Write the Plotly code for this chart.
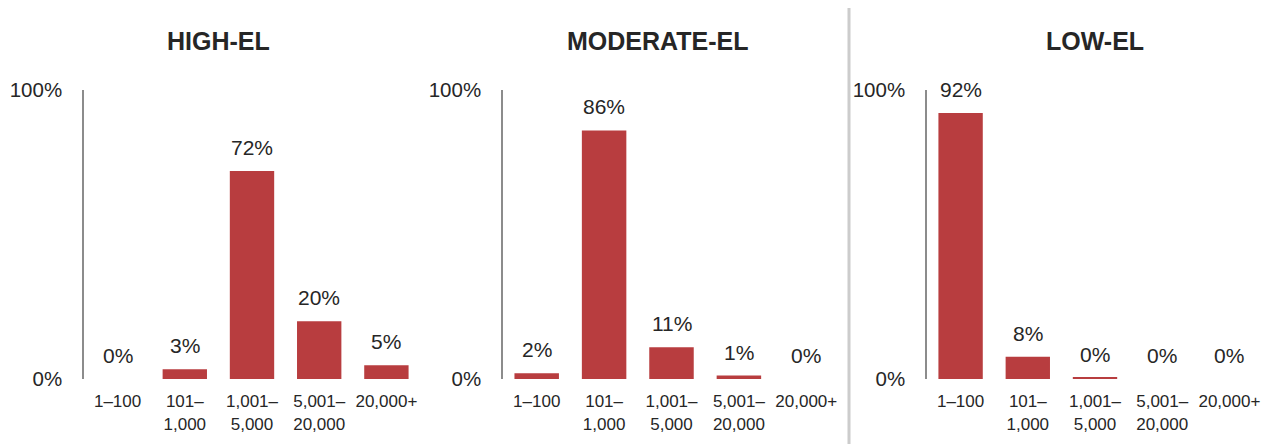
import plotly.graph_objects as go

categories = ["1–100", "101–<br>1,000", "1,001–<br>5,000", "5,001–<br>20,000", "20,000+"]
panel_titles = ["HIGH-EL", "MODERATE-EL", "LOW-EL"]
high_el = [0, 3.4, 72, 20, 4.8]
moderate_el = [2, 86, 11, 1.2, 0]
low_el = [92, 7.7, 0.4, 0, 0]
series = [high_el, moderate_el, low_el]

W, H = 1273, 444
OFF = 8  # page body margin in the browser
BAR = "#B83D3F"
TXT = "#262626"
FONT = "Liberation Sans, Arial, sans-serif"

# panel pixel extents in the reference image (left, right)
x_px = [(84, 420), (503, 840), (927, 1263)]
title_px = [218, 657, 1095]
title_y = 41
y_bottom_px, y_top_px = 379, 90


def px_x(p):
    return (p - OFF) / W


def px_y(p):
    return (H - (p - OFF)) / H


fig = go.Figure()
for i, vals in enumerate(series):
    n = "" if i == 0 else str(i + 1)
    fig.add_trace(go.Bar(
        x=categories, y=vals, marker=dict(color=BAR, line=dict(width=0)),
        xaxis="x" + n, yaxis="y" + n, showlegend=False, hoverinfo="skip",
    ))
    for c, v in zip(categories, vals):
        fig.add_annotation(
            x=c, y=v, xref="x" + n, yref="y" + n, text=f"{v:.0f}%",
            showarrow=False, yanchor="bottom", yshift=10,
            font=dict(size=21, color=TXT, family=FONT),
        )
    l, r = x_px[i]
    fig.update_layout(**{
        "xaxis" + n: dict(
            domain=[px_x(l), px_x(r)], anchor="y" + n, type="category",
            showline=False, showgrid=False, zeroline=False, automargin=False,
            ticks="outside", ticklen=7, tickcolor="rgba(0,0,0,0)",
            tickfont=dict(size=17, color=TXT, family=FONT),
        ),
        "yaxis" + n: dict(
            domain=[px_y(y_bottom_px), px_y(y_top_px)], anchor="x" + n,
            range=[0, 100], tickvals=[0, 100], ticktext=["0%", "100%"],
            showline=True, linecolor="#8c8c8c", linewidth=1.5,
            showgrid=False, zeroline=False, automargin=False,
            ticks="outside", ticklen=16, tickcolor="rgba(0,0,0,0)",
            tickfont=dict(size=20.5, color=TXT, family=FONT),
        ),
    })
    fig.add_annotation(
        x=px_x(title_px[i]), y=px_y(title_y), xref="paper", yref="paper",
        text=f"<b>{panel_titles[i]}</b>", showarrow=False,
        xanchor="center", yanchor="middle",
        font=dict(size=25, color=TXT, family=FONT),
    )

fig.add_shape(type="line", xref="paper", yref="paper",
              x0=px_x(849), x1=px_x(849), y0=px_y(444), y1=px_y(8),
              line=dict(color="#cccccc", width=3))

fig.update_layout(
    width=W, height=H, margin=dict(l=0, r=0, t=0, b=0),
    paper_bgcolor="white", plot_bgcolor="white",
    bargap=0.34, font=dict(family=FONT, color=TXT),
)
fig.write_html("out.html")
